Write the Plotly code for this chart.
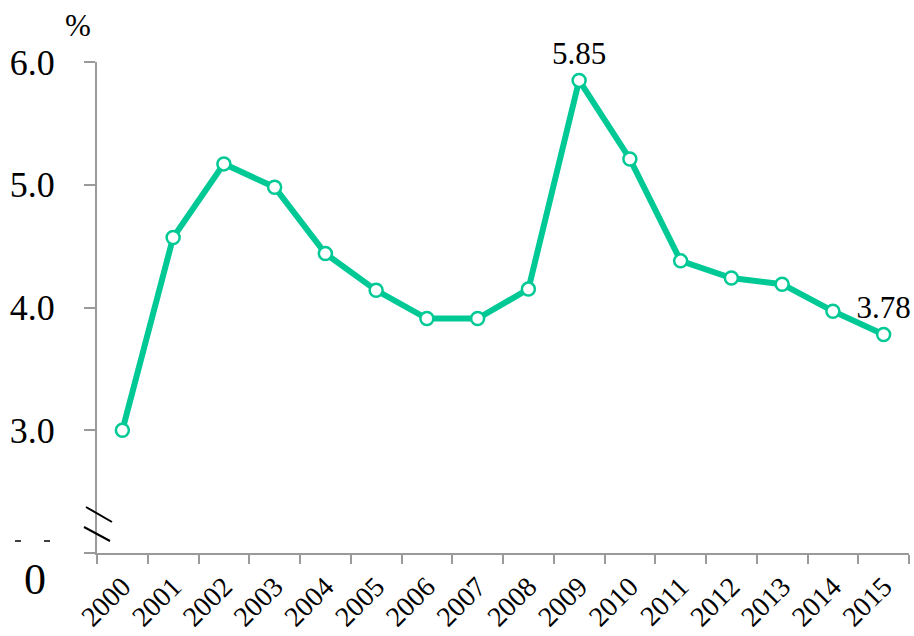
import plotly.graph_objects as go

# Annual rate (%), 2000-2015
years = [str(y) for y in range(2000, 2016)]
rates = [3.00, 4.57, 5.17, 4.98, 4.44, 4.14, 3.91, 3.91, 4.15, 5.85,
         5.21, 4.38, 4.24, 4.19, 3.97, 3.78]
labelled_years = ["2009", "2015"]

y_ticks = [2, 3, 4, 5, 6]
y_tick_text = ["", "3.0", "4.0", "5.0", "6.0"]

GREEN = "#00C995"
AXIS = "#9a9a9a"
FONT = "Liberation Serif"

point_text = [f"{v:.2f}" if y in labelled_years else "" for y, v in zip(years, rates)]

fig = go.Figure()
fig.add_trace(go.Scatter(
    x=years, y=rates,
    mode="lines+markers+text",
    line=dict(color=GREEN, width=6),
    marker=dict(size=13, color="white", line=dict(color=GREEN, width=2.5)),
    text=point_text,
    textposition="top center",
    textfont=dict(family=FONT, size=31, color="black"),
    cliponaxis=False,
    hoverinfo="x+y",
))

W, H = 914, 636
L, R, T, B = 97, 5, 62, 83
pw, ph = W - L - R, H - T - B

def px_x(px):
    return (px - L) / pw

def px_y(py):
    return (H - B - py) / ph

def seg(x0, y0, x1, y1, width=2):
    return dict(type="line", xref="paper", yref="paper",
                x0=px_x(x0), y0=px_y(y0), x1=px_x(x1), y1=px_y(y1),
                line=dict(color="black", width=width), layer="above")

shapes = [
    # axis break marks
    seg(86, 507, 112, 522),
    seg(84, 527, 110, 541),
    # clipped remains of the bottom tick label
    seg(15, 541, 21, 541, 1.5),
    seg(44, 541, 50, 541, 1.5),
]

annotations = [
    dict(text="%", xref="paper", yref="paper", x=px_x(78), y=px_y(26),
         showarrow=False, font=dict(family=FONT, size=31, color="black"),
         xanchor="center", yanchor="middle"),
    dict(text="0", xref="paper", yref="paper", x=px_x(35), y=px_y(579),
         showarrow=False, font=dict(family=FONT, size=44, color="black"),
         xanchor="center", yanchor="middle"),
]

fig.update_layout(
    width=W, height=H,
    margin=dict(l=L, r=R, t=T, b=B),
    paper_bgcolor="white", plot_bgcolor="white",
    showlegend=False,
    font=dict(family=FONT, color="black"),
    shapes=shapes,
    annotations=annotations,
    xaxis=dict(
        type="category",
        range=[-0.5, len(years) - 0.5],
        tickson="boundaries",
        ticks="outside", ticklen=9, tickwidth=2, tickcolor=AXIS,
        showline=True, linecolor=AXIS, linewidth=2,
        showgrid=False, zeroline=False,
        tickangle=-45,
        tickfont=dict(family=FONT, size=28, color="black"),
        ticklabelstandoff=4,
        automargin=False,
    ),
    yaxis=dict(
        range=[2, 6],
        tickvals=y_ticks, ticktext=y_tick_text,
        ticks="outside", ticklen=11, tickwidth=2, tickcolor=AXIS,
        showline=True, linecolor=AXIS, linewidth=2,
        showgrid=False, zeroline=False,
        tickfont=dict(family=FONT, size=36, color="black"),
        ticklabelstandoff=22,
        automargin=False,
    ),
)

fig.write_html("out.html")
